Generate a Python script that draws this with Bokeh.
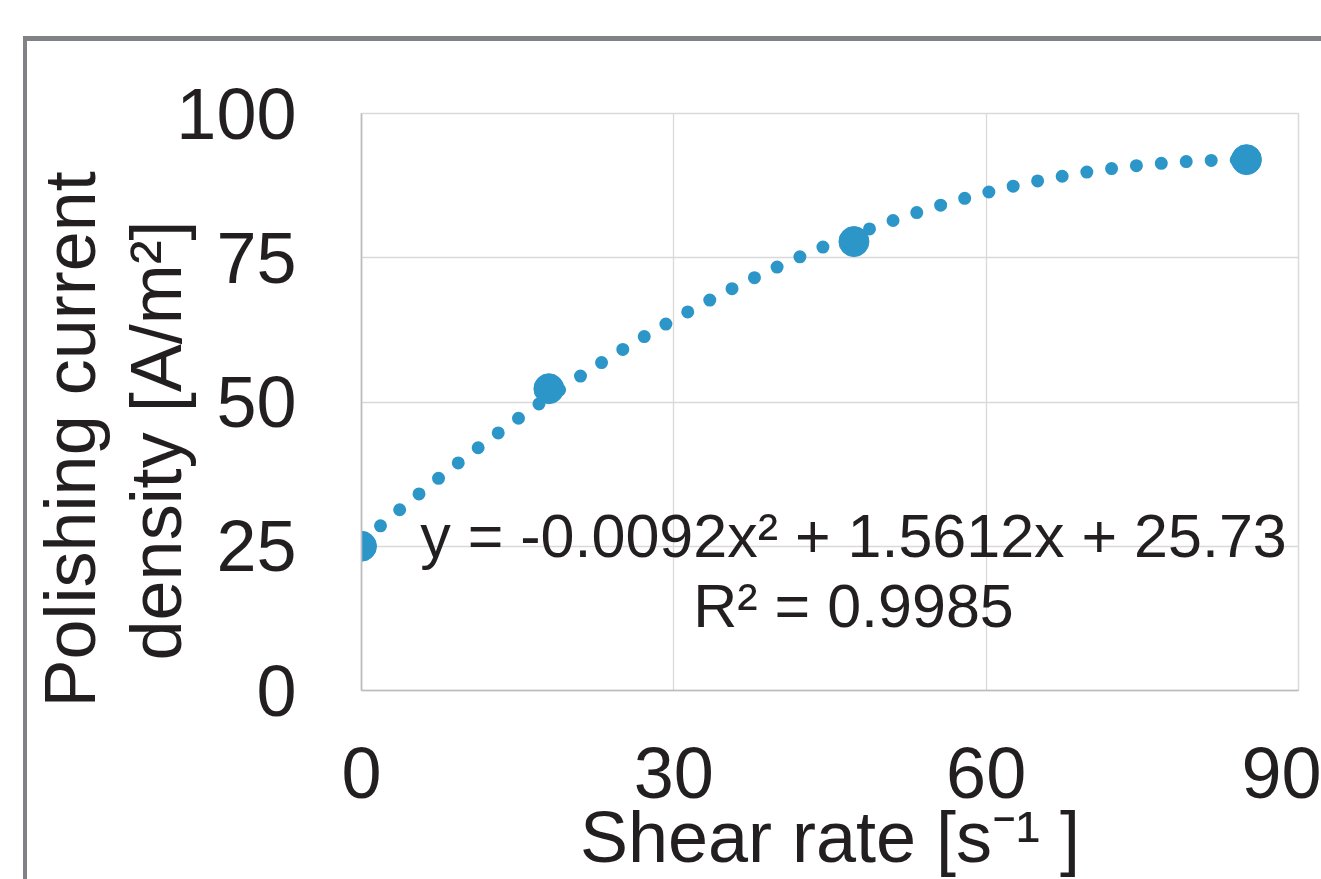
import numpy as np
from bokeh.plotting import figure
from bokeh.models import Range1d, FixedTicker, Label, Title
from bokeh.embed import file_html
from bokeh.resources import INLINE

# ---- data ----
shear_rate = [0.0, 18.0, 47.3, 85.0]
current_density = [25.0, 52.3, 77.8, 92.0]
trend_coefficients = [-0.0092, 1.5612, 25.73]   # displayed trendline equation
x_ticks = [0, 30, 60, 90]
y_ticks = [0, 25, 50, 75, 100]
equation_text = "y = -0.0092x² + 1.5612x + 25.73"
r2_text = "R² = 0.9985"
x_title = "Shear rate [s⁻¹ ]"
y_title_lines = ["density [A/m²]", "Polishing current"]   # inner, outer

FONT = "Liberation Sans"
TEXT = "#231f20"
BLUE = "#2d96c8"
FRAME_GRAY = "#808285"

p = figure(width=1321, height=879, output_backend="svg", toolbar_location=None,
           x_range=Range1d(0, 90), y_range=Range1d(0, 100),
           min_border_left=361, min_border_right=23, min_border_top=113,
           min_border_bottom=189)
# outer gray frame of the original figure (drawn behind the transparent canvas)
p.styles = {
    "background-color": "white",
    "background-image": f"linear-gradient({FRAME_GRAY}, {FRAME_GRAY}), "
                        f"linear-gradient({FRAME_GRAY}, {FRAME_GRAY})",
    "background-size": "4px 100%, 100% 5px",
    "background-position": "23px 36px, 23px 36px",
    "background-repeat": "no-repeat",
}

p.background_fill_color = "white"
p.border_fill_color = None
p.outline_line_color = "#d9d9d9"
p.outline_line_width = 1.5

p.xaxis.ticker = FixedTicker(ticks=x_ticks)
p.yaxis.ticker = FixedTicker(ticks=y_ticks)
p.xgrid.ticker = FixedTicker(ticks=x_ticks)
p.ygrid.ticker = FixedTicker(ticks=y_ticks)
p.grid.grid_line_color = "#d9d9d9"
p.grid.grid_line_width = 1.3

for ax in (p.xaxis, p.yaxis):
    ax.axis_line_color = "#bcbcc0"
    ax.axis_line_width = 1.6
    ax.major_tick_line_color = None
    ax.minor_tick_line_color = None
    ax.major_tick_out = 0
    ax.major_tick_in = 0
    ax.major_label_text_font = FONT
    ax.major_label_text_font_size = "72px"
    ax.major_label_text_color = TEXT
p.xaxis.major_label_standoff = 57
p.yaxis.major_label_standoff = 65

p.xaxis.axis_label = x_title
p.xaxis.axis_label_text_font = FONT
p.xaxis.axis_label_text_font_size = "72px"
p.xaxis.axis_label_text_font_style = "normal"
p.xaxis.axis_label_text_color = TEXT
p.xaxis.axis_label_standoff = -4

# y axis title: two stacked titles on the left (inner line first)
for line, standoff, offset in zip(y_title_lines, [-45, 53], [30, -17]):
    p.add_layout(Title(text=line, align="left", offset=offset, standoff=standoff,
                       text_font=FONT, text_font_size="72px",
                       text_font_style="normal", text_color=TEXT), "left")

# trendline (dotted) from the displayed polynomial
trend_x = np.linspace(min(shear_rate), max(shear_rate), 400)
trend_y = np.polyval(trend_coefficients, trend_x)
p.line(trend_x, trend_y, line_color=BLUE, line_width=13, line_dash="0 25",
       line_cap="round")

p.scatter(shear_rate, current_density, size=30, fill_color=BLUE,
          line_color=BLUE)

# equation labels
p.add_layout(Label(x=47.26, y=26.86, text=equation_text, text_font=FONT,
                   text_font_size="61px", text_color=TEXT, text_align="center",
                   text_baseline="alphabetic"))
p.add_layout(Label(x=47.26, y=14.73, text=r2_text, text_font=FONT,
                   text_font_size="61px", text_color=TEXT, text_align="center",
                   text_baseline="alphabetic"))

open("out.html", "w").write(file_html(p, INLINE))
